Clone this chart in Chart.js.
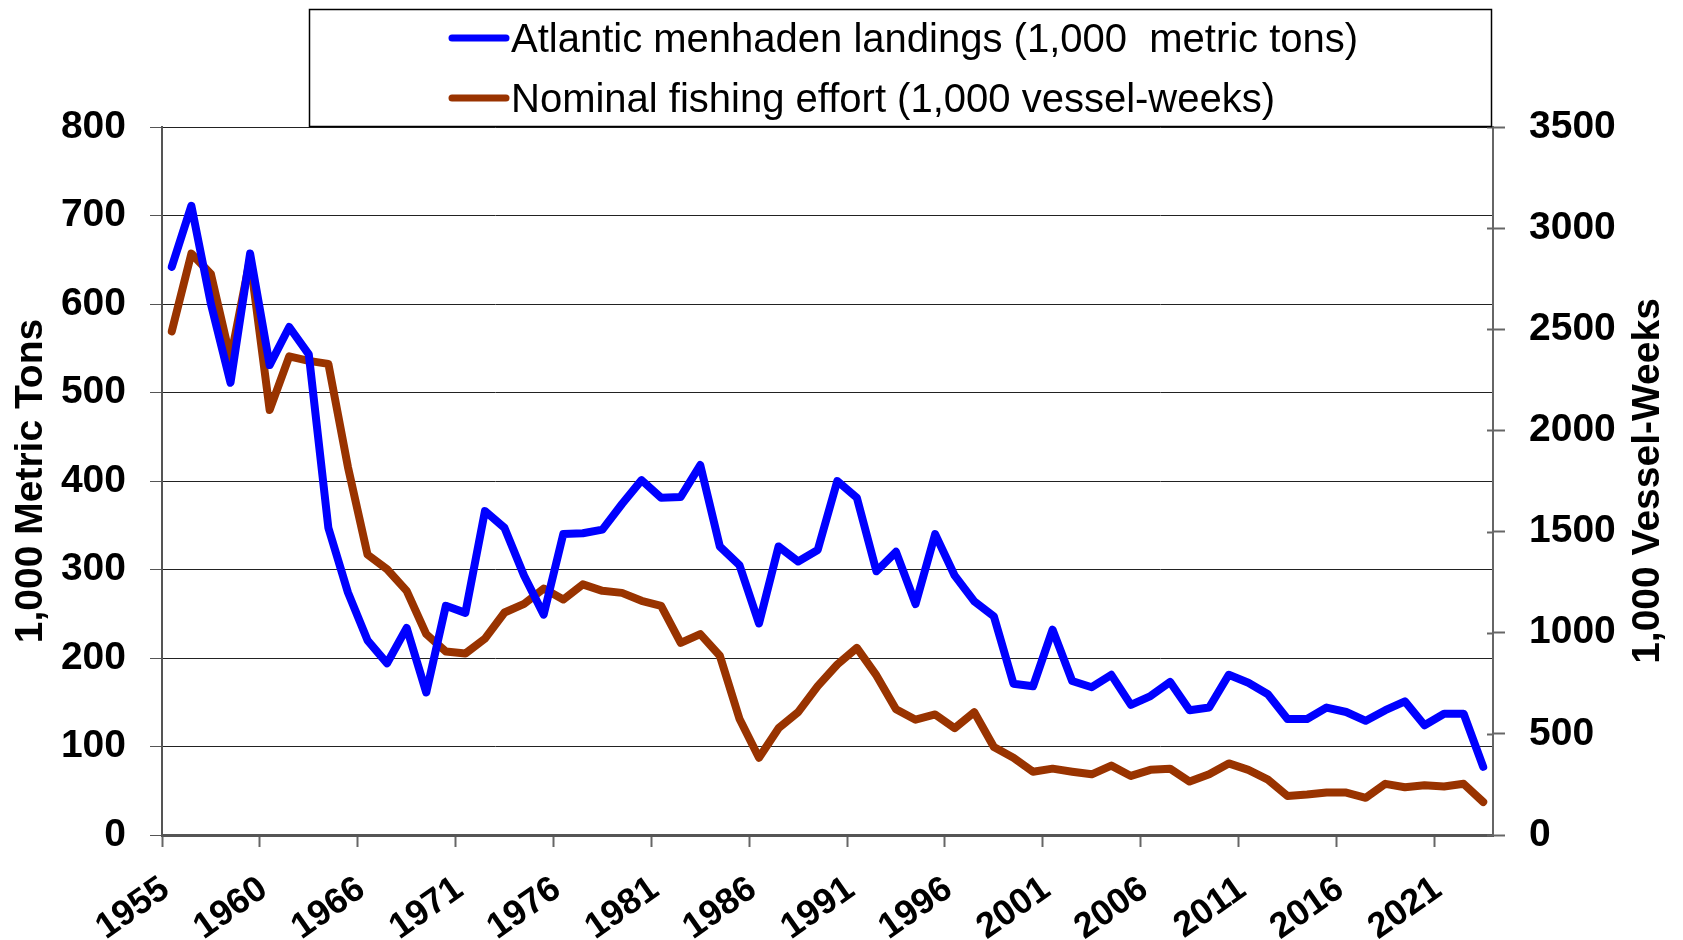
<!DOCTYPE html>
<html>
<head>
<meta charset="utf-8">
<script src="https://cdn.jsdelivr.net/npm/chart.js@4.4.0/dist/chart.umd.min.js"></script>
<style>
  html, body { margin: 0; padding: 0; background: #fff; }
  canvas { display: block; }
</style>
</head>
<body>
<canvas id="menhadenChart" width="1683" height="940" style="width:1683px;height:940px"></canvas>
<script>
// years shown on the category axis (1964 not in the series)
const years = [
  '1955', '1956', '1957', '1958', '1959', '1960', '1961', '1962', '1963', '1965',
  '1966', '1967', '1968', '1969', '1970', '1971', '1972', '1973', '1974', '1975',
  '1976', '1977', '1978', '1979', '1980', '1981', '1982', '1983', '1984', '1985',
  '1986', '1987', '1988', '1989', '1990', '1991', '1992', '1993', '1994', '1995',
  '1996', '1997', '1998', '1999', '2000', '2001', '2002', '2003', '2004', '2005',
  '2006', '2007', '2008', '2009', '2010', '2011', '2012', '2013', '2014', '2015',
  '2016', '2017', '2018', '2019', '2020', '2021', '2022', '2023'
];

// 1,000 metric tons
const landings = [
  642, 711, 600, 511, 657, 531, 574, 543, 347, 274,
  220, 194, 234, 161, 259, 251, 366, 347, 293, 249,
  340, 341, 345, 374, 401, 381, 382, 418, 326, 305,
  239, 326, 309, 322, 400, 381, 298, 320, 261, 340,
  293, 264, 247, 171, 168, 232, 174, 167, 181, 147,
  157, 173, 141, 144, 181, 172, 159, 131, 131, 144,
  139, 129, 141, 151, 124, 137, 137, 77
];

// 1,000 vessel-weeks
const effort = [
  2490, 2874, 2773, 2354, 2848, 2101, 2366, 2344, 2329, 1819,
  1386, 1314, 1207, 993, 907, 897, 971, 1100, 1143, 1218,
  1164, 1239, 1207, 1197, 1158, 1133, 950, 993, 886, 575,
  382, 528, 607, 736, 843, 925, 789, 622, 570, 596,
  528, 607, 435, 382, 313, 328, 313, 300, 343, 292,
  322, 328, 264, 300, 354, 322, 274, 193, 200, 210,
  210, 184, 253, 236, 246, 240, 253, 163
];

const landingsLabel = 'Atlantic menhaden landings (1,000  metric tons)';
const effortLabel = 'Nominal fishing effort (1,000 vessel-weeks)';
const leftTitle = '1,000 Metric Tons';
const rightTitle = '1,000 Vessel-Weeks';

const FONT = "'Liberation Sans', Arial, sans-serif";

// legend box on top of the plot + right axis title reading upwards
const decorPlugin = {
    id: 'decor',
    afterDraw: function (chart) {
        const ctx = chart.ctx;
        const area = chart.chartArea;

        // inner half of the right axis tick marks
        const y2 = chart.scales.y2;
        ctx.save();
        ctx.strokeStyle = '#666';
        ctx.lineWidth = 2;
        y2.ticks.forEach((t, i) => {
            const py = Math.round(y2.getPixelForTick(i)) + 0.5;
            ctx.beginPath();
            ctx.moveTo(area.right - 6, py);
            ctx.lineTo(area.right, py);
            ctx.stroke();
        });
        ctx.restore();

        // right title
        ctx.save();
        ctx.translate(1648, (area.top + area.bottom) / 2);
        ctx.rotate(-Math.PI / 2);
        ctx.font = 'bold 39px ' + FONT;
        ctx.fillStyle = '#000';
        ctx.textAlign = 'center';
        ctx.textBaseline = 'middle';
        ctx.fillText(rightTitle, 0, 0);
        ctx.restore();

        // legend box
        ctx.save();
        ctx.fillStyle = '#fff';
        ctx.fillRect(309, 9, 1183, 118);
        ctx.strokeStyle = '#000';
        ctx.lineWidth = 1.5;
        ctx.strokeRect(309.5, 9.5, 1182, 117);
        const rows = [38, 98];
        chart.data.datasets.forEach((ds, i) => {
            ctx.strokeStyle = ds.borderColor;
            ctx.lineWidth = 7;
            ctx.lineCap = 'round';
            ctx.beginPath();
            ctx.moveTo(452, rows[i]);
            ctx.lineTo(506, rows[i]);
            ctx.stroke();
            ctx.font = '40px ' + FONT;
            ctx.fillStyle = '#000';
            ctx.textAlign = 'left';
            ctx.textBaseline = 'alphabetic';
            ctx.fillText(ds.label, 511, rows[i] + 14);
        });
        ctx.restore();
    }
};

const ctx = document.getElementById('menhadenChart').getContext('2d');
new Chart(ctx, {
    type: 'line',
    data: {
        labels: years,
        datasets: [{
            label: landingsLabel,
            data: landings,
            yAxisID: 'y',
            borderColor: '#0000FF',
            borderWidth: 8,
            borderCapStyle: 'round',
            borderJoinStyle: 'round',
            pointRadius: 0,
            tension: 0
        }, {
            label: effortLabel,
            data: effort,
            yAxisID: 'y2',
            borderColor: '#993300',
            borderWidth: 8,
            borderCapStyle: 'round',
            borderJoinStyle: 'round',
            pointRadius: 0,
            tension: 0
        }]
    },
    options: {
        responsive: false,
        animation: false,
        devicePixelRatio: 1,
        layout: {
            padding: { top: 127, left: 0, right: 0, bottom: 0 }
        },
        plugins: {
            legend: { display: false },
            tooltip: { enabled: false }
        },
        scales: {
            x: {
                type: 'category',
                offset: true,
                grid: {
                    offset: true,
                    drawOnChartArea: false,
                    tickLength: 12,
                    tickWidth: 2,
                    tickColor: (c) => (c.index % 5 === 0 ? '#666' : 'rgba(0,0,0,0)')
                },
                border: { color: '#555', width: 3 },
                ticks: {
                    autoSkip: false,
                    minRotation: 35,
                    maxRotation: 35,
                    padding: 21,
                    labelOffset: -6,
                    color: '#000',
                    font: { family: FONT, size: 36, weight: 'bold' },
                    callback: function (value, index) {
                        return index % 5 === 0 ? this.getLabelForValue(value) : '';
                    }
                },
                afterFit: (scale) => { scale.height = 105; }
            },
            y: {
                position: 'left',
                min: 0,
                max: 800,
                ticks: {
                    stepSize: 100,
                    padding: 24,
                    color: '#000',
                    font: { family: FONT, size: 39, weight: 'bold' }
                },
                grid: {
                    color: '#222',
                    lineWidth: 1,
                    tickLength: 12,
                    tickColor: '#555'
                },
                border: { color: '#555', width: 2 },
                title: {
                    display: true,
                    text: leftTitle,
                    color: '#000',
                    padding: { top: 8, bottom: 0 },
                    font: { family: FONT, size: 39, weight: 'bold' }
                },
                afterFit: (scale) => { scale.width = 162; }
            },
            y2: {
                position: 'right',
                min: 0,
                max: 3500,
                ticks: {
                    stepSize: 500,
                    padding: 24,
                    color: '#000',
                    font: { family: FONT, size: 39, weight: 'bold' },
                    callback: (value) => String(value)
                },
                grid: {
                    drawOnChartArea: false,
                    tickLength: 12,
                    tickWidth: 2,
                    tickColor: '#666'
                },
                border: { color: '#666', width: 2 },
                afterFit: (scale) => { scale.width = 190; }
            }
        }
    },
    plugins: [decorPlugin]
});
</script>
</body>
</html>
